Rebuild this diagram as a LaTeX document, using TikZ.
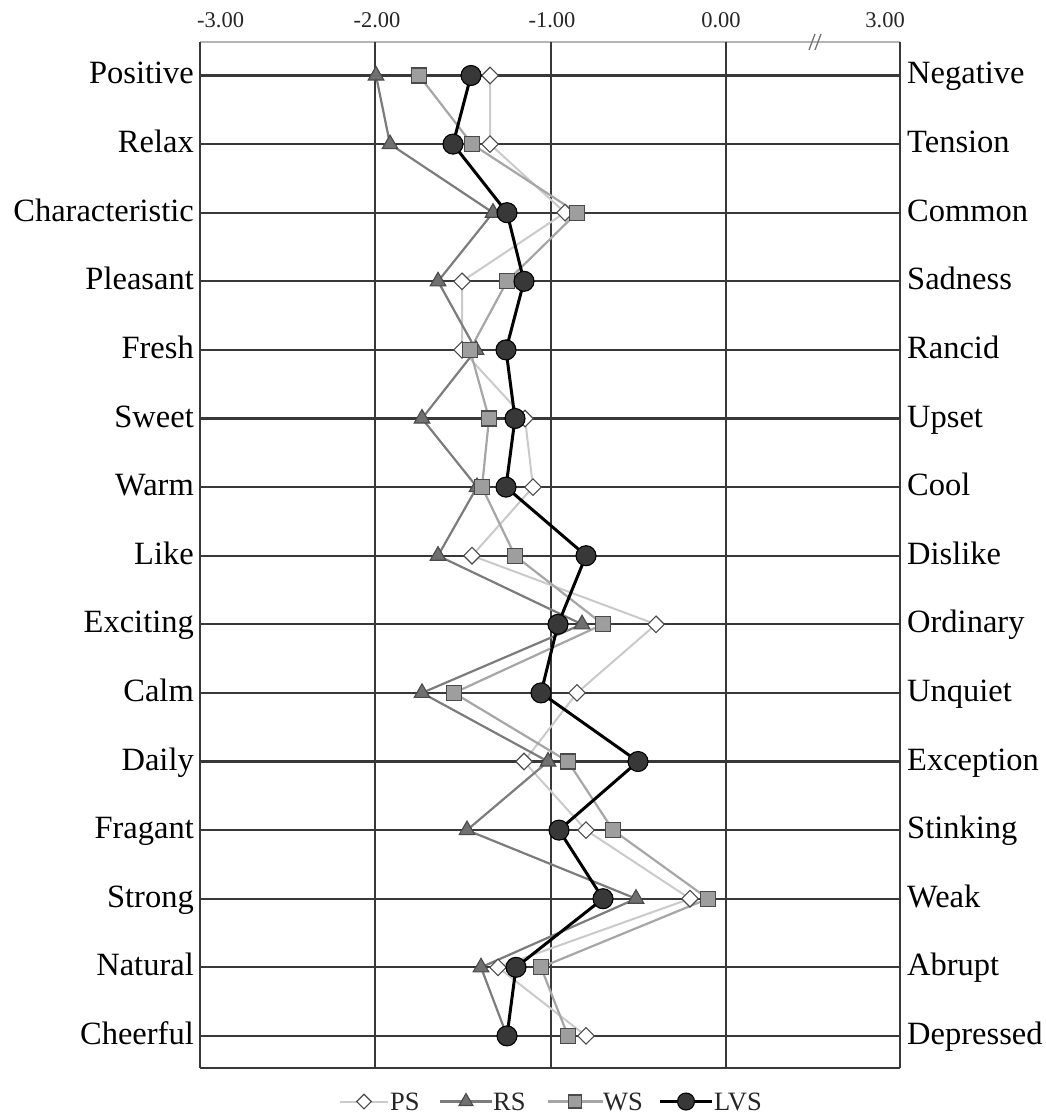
\documentclass[tikz,border=0pt]{standalone}
\usepackage{fontspec}
\setmainfont{Liberation Serif}
\usetikzlibrary{shapes.geometric}
\definecolor{gridc}{HTML}{383838}
\definecolor{topc}{HTML}{B4B4B4}
\definecolor{psl}{HTML}{CACACA}
\definecolor{rsl}{HTML}{7C7C7C}
\definecolor{wsl}{HTML}{A6A6A6}
\definecolor{mkd}{HTML}{4A4A4A}
\definecolor{rsf}{HTML}{707070}
\definecolor{wsf}{HTML}{9E9E9E}
\definecolor{lvf}{HTML}{383838}
\tikzset{
  gridline/.style={draw=gridc,line width=2.2pt},
  vline/.style={draw=gridc,line width=1.8pt},
  psline/.style={draw=psl,line width=2pt},
  rsline/.style={draw=rsl,line width=2.2pt},
  wsline/.style={draw=wsl,line width=2.2pt},
  lvline/.style={draw=black,line width=3pt},
  psmark/.style={diamond,draw=mkd,fill=white,line width=1.1pt,minimum width=17pt,minimum height=17pt,inner sep=0pt},
  rsmark/.style={regular polygon,regular polygon sides=3,draw=mkd,fill=rsf,line width=1.1pt,minimum size=18pt,inner sep=0pt},
  wsmark/.style={rectangle,draw=mkd,fill=wsf,line width=1.1pt,minimum width=15pt,minimum height=15pt,inner sep=0pt},
  lvmark/.style={circle,draw=black,fill=lvf,line width=1.1pt,minimum size=20pt,inner sep=0pt},
  lbl/.style={font=\fontsize{32.5}{34}\selectfont,inner sep=0pt,text=black},
  ticklbl/.style={font=\fontsize{22.5}{24}\selectfont,inner sep=0pt,text=black!85},
  leglbl/.style={font=\fontsize{26.5}{28}\selectfont,inner sep=0pt,text=black!85}
}
\begin{document}
\begin{tikzpicture}[x=1pt,y=-1pt]
\useasboundingbox[fill=white] (0,0) rectangle (1046,1116);
% frame and grid
\coordinate (tl) at (200,42);
\coordinate (tr) at (900,42);
\coordinate (bl) at (200,1068);
\coordinate (br) at (900,1068);
\draw[draw=topc,line width=2pt] (tl) -- (tr);
\foreach \xv [count=\k] in {375,551,726}{
  \coordinate (vt\k) at (\xv,42);
  \coordinate (vb\k) at (\xv,1068);
  \draw[vline] (vt\k) -- (vb\k);
}
\draw[vline] (tl) -- (bl);
\draw[vline] (tr) -- (br);
\draw[gridline] (bl) -- (br);
\foreach \i in {0,...,14}{
  \coordinate (hl\i) at (200,{75.5+68.6*\i});
  \coordinate (hr\i) at (900,{75.5+68.6*\i});
  \draw[gridline] (hl\i) -- (hr\i);
}
% break mark
\coordinate (bk1a) at (809,50); \coordinate (bk1b) at (815,34);
\coordinate (bk2a) at (815,50); \coordinate (bk2b) at (821,34);
\draw[draw=black!55,line width=1.3pt] (bk1a) -- (bk1b);
\draw[draw=black!55,line width=1.3pt] (bk2a) -- (bk2b);
% tick labels
\node[ticklbl,anchor=base west] (t1) at (197,28) {-3.00};
\node[ticklbl,anchor=base] (t2) at (377,28) {-2.00};
\node[ticklbl,anchor=base] (t3) at (552,28) {-1.00};
\node[ticklbl,anchor=base] (t4) at (721,28) {0.00};
\node[ticklbl,anchor=base east] (t5) at (905,28) {3.00};
% row labels
\foreach \l [count=\i from 0] in {Positive,Relax,Characteristic,Pleasant,Fresh,Sweet,Warm,Like,Exciting,Calm,Daily,Fragant,Strong,Natural,Cheerful}{
  \node[lbl,anchor=base east] (L\i) at (194,{75.5+68.6*\i+8.5}) {\l};
}
\foreach \l [count=\i from 0] in {Negative,Tension,Common,Sadness,Rancid,Upset,Cool,Dislike,Ordinary,Unquiet,Exception,Stinking,Weak,Abrupt,Depressed}{
  \node[lbl,anchor=base west] (R\i) at (907,{75.5+68.6*\i+8.5}) {\l};
}
% data coordinates
\foreach \x [count=\i from 0] in {490,490,565,462,462,525,533,472,656,577,524,586,690,498,586}{
  \coordinate (ps\i) at (\x,{75.5+68.6*\i});
}
\foreach \x [count=\i from 0] in {376,390,493,438,476,422,477,438,582,422,548,467,636,481,507}{
  \coordinate (rs\i) at (\x,{75.5+68.6*\i});
}
\foreach \x [count=\i from 0] in {419,472,577,507,470,489,482,515,603,454,568,613,708,541,568}{
  \coordinate (ws\i) at (\x,{75.5+68.6*\i});
}
\foreach \x [count=\i from 0] in {471,453,507,524,506,515,506,586,558,541,638,559,603,516,507}{
  \coordinate (lv\i) at (\x,{75.5+68.6*\i});
}
% series lines
\draw[psline] (ps0) \foreach \i in {1,...,14}{ -- (ps\i)};
\draw[rsline] (rs0) \foreach \i in {1,...,14}{ -- (rs\i)};
\draw[wsline] (ws0) \foreach \i in {1,...,14}{ -- (ws\i)};
\draw[lvline] (lv0) \foreach \i in {1,...,14}{ -- (lv\i)};
% markers
\foreach \i in {0,...,14}{ \node[psmark] (psm\i) at (ps\i) {}; }
\foreach \i in {0,...,14}{ \node[rsmark] (rsm\i) at (rs\i) {}; }
\foreach \i in {0,...,14}{ \node[wsmark] (wsm\i) at (ws\i) {}; }
\foreach \i in {0,...,14}{ \node[lvmark] (lvm\i) at (lv\i) {}; }
% legend
\coordinate (g1a) at (340,1101.5); \coordinate (g1b) at (388,1101.5);
\coordinate (g2a) at (440,1101.5); \coordinate (g2b) at (492,1101.5);
\coordinate (g3a) at (548,1101.5); \coordinate (g3b) at (603,1101.5);
\coordinate (g4a) at (660,1101.5); \coordinate (g4b) at (712,1101.5);
\draw[psline] (g1a) -- (g1b);
\draw[rsline] (g2a) -- (g2b);
\draw[wsline] (g3a) -- (g3b);
\draw[lvline] (g4a) -- (g4b);
\node[psmark,minimum width=15pt,minimum height=15pt] (gm1) at (364,1101.5) {};
\node[rsmark,minimum size=16pt] (gm2) at (466,1101.5) {};
\node[wsmark,minimum width=13pt,minimum height=13pt] (gm3) at (575,1101.5) {};
\node[lvmark,minimum size=17pt] (gm4) at (686,1101.5) {};
\node[leglbl,anchor=base west] (gt1) at (390,1110) {PS};
\node[leglbl,anchor=base west] (gt2) at (493,1110) {RS};
\node[leglbl,anchor=base west] (gt3) at (603,1110) {WS};
\node[leglbl,anchor=base west] (gt4) at (714,1110) {LVS};
\end{tikzpicture}
\end{document}
